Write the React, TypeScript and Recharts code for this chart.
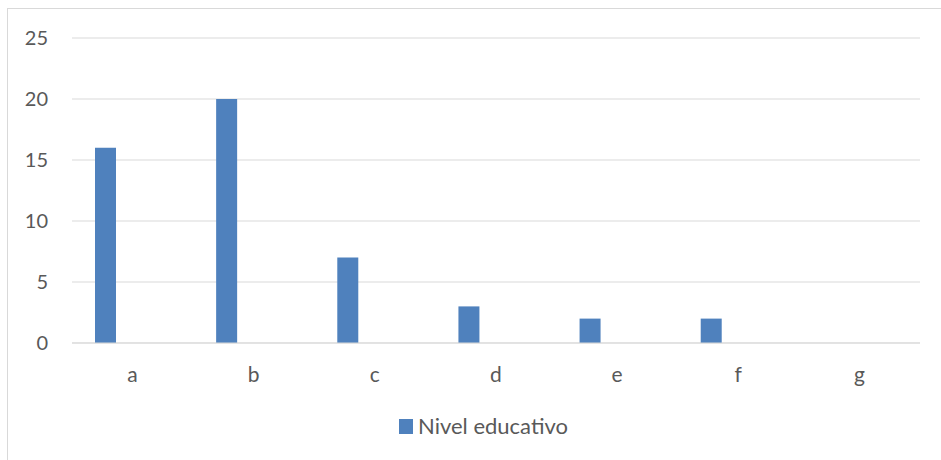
import React from "react";
import { BarChart, Bar, XAxis, YAxis, CartesianGrid, Rectangle } from "recharts";

const categories = ["a", "b", "c", "d", "e", "f", "g"];
const nivelEducativo = [16, 20, 7, 3, 2, 2, 0];
const yTicks = [0, 5, 10, 15, 20, 25];
const seriesName = "Nivel educativo";

const data = categories.map((c, i) => ({ name: c, value: nivelEducativo[i] }));

const FONT = "Lato, 'Open Sans', sans-serif";
const TEXT = "#595959";
const BAR = "#4F81BD";
const GRID = "#D9D9D9";
const BAR_SHIFT = -27;

const ShiftedBar = (props: any) => {
  if (!props.height) return null;
  return <Rectangle {...props} x={props.x + BAR_SHIFT} />;
};

export default function App() {
  return (
    <div>
      <style>{`body{margin:0;overflow:hidden;}`}</style>
      <div
        style={{
          position: "absolute",
          left: 7,
          top: 8,
          width: 940,
          height: 460,
          border: `1px solid ${GRID}`,
          boxSizing: "border-box",
          background: "#fff",
        }}
      >
        <BarChart
          width={932}
          height={451}
          data={data}
          margin={{ top: 29, right: 20, bottom: 87, left: 0 }}
          barSize={21}
        >
          <CartesianGrid vertical={false} stroke={GRID} strokeWidth={1} />
          <XAxis
            dataKey="name"
            height={30}
            axisLine={{ stroke: GRID }}
            tickLine={false}
            tickSize={0}
            tickMargin={24}
            tick={{ fill: TEXT, fontSize: 21, fontFamily: FONT }}
          />
          <YAxis
            width={64}
            domain={[0, 25]}
            ticks={yTicks}
            axisLine={false}
            tickLine={false}
            tickSize={0}
            tickMargin={24}
            tick={{ fill: TEXT, fontSize: 20, fontFamily: FONT }}
          />
          <Bar
            dataKey="value"
            name={seriesName}
            fill={BAR}
            isAnimationActive={false}
            shape={ShiftedBar}
          />
        </BarChart>
        <div
          style={{
            position: "absolute",
            left: 391,
            top: 409,
            display: "flex",
            alignItems: "center",
            fontFamily: FONT,
            fontSize: 22,
            color: TEXT,
            whiteSpace: "nowrap",
          }}
        >
          <span
            style={{
              display: "inline-block",
              width: 14,
              height: 15,
              background: BAR,
              marginRight: 5,
            }}
          />
          <span style={{ lineHeight: "16px" }}>{seriesName}</span>
        </div>
      </div>
    </div>
  );
}
